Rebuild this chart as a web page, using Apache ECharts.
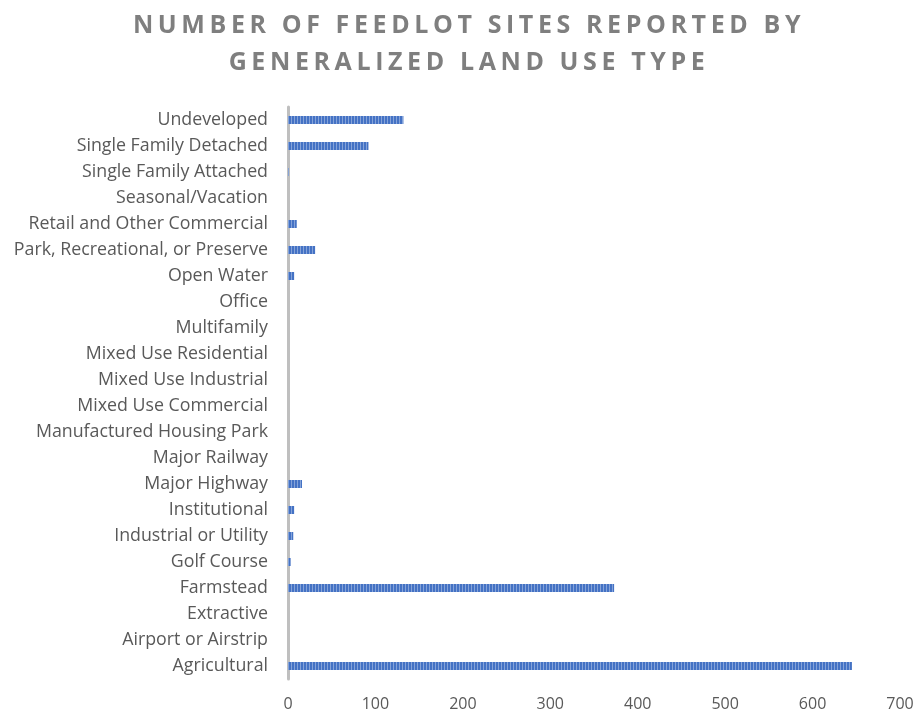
<!DOCTYPE html>
<html>
<head>
<meta charset="utf-8">
<script src="https://cdn.jsdelivr.net/npm/echarts@6/dist/echarts.min.js"></script>
<style>
  html, body { margin: 0; padding: 0; background: #ffffff; }
  #chart { width: 920px; height: 717px; }
</style>
</head>
<body>
<div id="chart"></div>
<script>
// Land use categories, listed bottom to top as they appear on the axis
const categories = [
  'Agricultural',
  'Airport or Airstrip',
  'Extractive',
  'Farmstead',
  'Golf Course',
  'Industrial or Utility',
  'Institutional',
  'Major Highway',
  'Major Railway',
  'Manufactured Housing Park',
  'Mixed Use Commercial',
  'Mixed Use Industrial',
  'Mixed Use Residential',
  'Multifamily',
  'Office',
  'Open Water',
  'Park, Recreational, or Preserve',
  'Retail and Other Commercial',
  'Seasonal/Vacation',
  'Single Family Attached',
  'Single Family Detached',
  'Undeveloped'
];

// Number of feedlot sites in each land use category
const siteCounts = [
  645, 0, 0, 373, 3, 6, 7, 16, 0, 0, 0,
  0, 0, 0, 0, 7, 31, 10, 0, 1, 92, 132
];

// Value axis ticks
const axisMin = 0;
const axisMax = 700;
const axisStep = 100;

const titleLines = ['NUMBER OF FEEDLOT SITES REPORTED BY', 'GENERALIZED LAND USE TYPE'];

// Tracked-out heading: the canvas picks up extra letter spacing whenever the
// heading font is selected (both for drawing and for width measurement, so
// centring stays correct), and drops it again for every other font.
const TITLE_FONT_SIZE = 25;
const TITLE_TRACKING = '4.6px';
(function () {
  const proto = CanvasRenderingContext2D.prototype;
  const fontDesc = Object.getOwnPropertyDescriptor(proto, 'font');
  if (!fontDesc || !('letterSpacing' in proto)) return;
  const headingFont = new RegExp('bold ' + TITLE_FONT_SIZE + 'px');
  Object.defineProperty(proto, 'font', {
    configurable: true,
    get() { return fontDesc.get.call(this); },
    set(v) {
      fontDesc.set.call(this, v);
      this.letterSpacing = headingFont.test(v) ? TITLE_TRACKING : '0px';
    }
  });
})();

const chart = echarts.init(document.getElementById('chart'), null, { renderer: 'canvas' });

chart.setOption({
  backgroundColor: '#ffffff',
  animation: false,
  title: {
    text: titleLines.join('\n'),
    left: 464,
    top: 2,
    textAlign: 'center',
    textStyle: {
      fontFamily: 'Open Sans',
      fontWeight: 'bold',
      fontSize: TITLE_FONT_SIZE,
      lineHeight: 37,
      color: '#7f7f7f'
    }
  },
  grid: {
    left: 288,
    right: 20,
    top: 107,
    bottom: 38,
    containLabel: false
  },
  xAxis: {
    type: 'value',
    min: axisMin,
    max: axisMax,
    interval: axisStep,
    splitLine: { show: false },
    axisLine: { show: false },
    axisTick: { show: false },
    axisLabel: {
      color: '#595959',
      fontFamily: 'Open Sans',
      fontSize: 16,
      margin: 17
    }
  },
  yAxis: {
    type: 'category',
    data: categories,
    axisLine: { show: true, lineStyle: { color: '#bfbfbf', width: 3 } },
    axisTick: { show: false },
    axisLabel: {
      color: '#595959',
      fontFamily: 'Open Sans',
      fontSize: 17.8,
      margin: 20
    }
  },
  series: [{
    type: 'bar',
    data: siteCounts,
    barWidth: 8,
    itemStyle: {
      color: '#4472c4',
      decal: {
        symbol: 'rect',
        symbolSize: 1,
        color: 'rgba(255,255,255,0.35)',
        dashArrayX: [1, 2],
        dashArrayY: [1, 0],
        rotation: 0
      }
    }
  }]
});
</script>
</body>
</html>
